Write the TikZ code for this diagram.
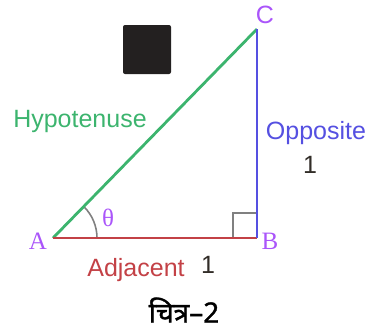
\documentclass[tikz,border=0pt]{standalone}
\usepackage{fontspec}
\setmainfont{Liberation Sans}
\newfontfamily\serifA{Liberation Serif}
\newfontfamily\deva[Script=Devanagari,FakeBold=1.2]{Noto Sans}
\definecolor{hypgreen}{RGB}{60,180,110}
\definecolor{oppblue}{RGB}{85,80,225}
\definecolor{adjred}{RGB}{195,65,70}
\definecolor{vpurple}{RGB}{170,85,250}
\definecolor{numdark}{RGB}{50,45,40}
\definecolor{sqdark}{RGB}{35,32,32}
\begin{document}
\begin{tikzpicture}[x=1pt,y=-1pt,
  side/.style={line width=2.8pt},
  lbl/.style={inner sep=0pt, font=\fontsize{25}{27}\selectfont},
  vtx/.style={inner sep=0pt, text=vpurple, font=\serifA\fontsize{25}{27}\selectfont},
  anglemark/.style={draw=gray, line width=1.6pt}]
\useasboundingbox (0,0) rectangle (370,335);
\coordinate (A) at (53,238);
\coordinate (B) at (257,238);
\coordinate (C) at (257,29);
\fill[sqdark, rounded corners=2pt] (123,25) rectangle (171,74);
\draw[anglemark] (233,238) -- (233,213) -- (257,213);
\draw[anglemark] (97,238) arc[start angle=0, end angle=-45, radius=44];
\draw[side, draw=hypgreen] (A) -- (C);
\draw[side, draw=adjred] (A) -- (B);
\draw[side, draw=oppblue] (B) -- (C);
\node[vtx] (lA) at (38,241) {A};
\node[vtx] (lB) at (270,241) {B};
\node[lbl, text=vpurple] (lC) at (265,15) {C};
\node[vtx] (th) at (108,218) {θ};
\node[lbl, text=hypgreen] (hyp) at (80,121) {Hypotenuse};
\node[lbl, text=oppblue] (opp) at (316,133) {Opposite};
\node[lbl, text=numdark] (one1) at (310,165) {1};
\node[lbl, text=adjred] (adj) at (136,270) {Adjacent};
\node[lbl, text=numdark] (one2) at (208,265) {1};
\node[inner sep=0pt, font=\deva\fontsize{28}{30}\selectfont] (cap) at (184,310) {चित्र–2};
\end{tikzpicture}
\end{document}
